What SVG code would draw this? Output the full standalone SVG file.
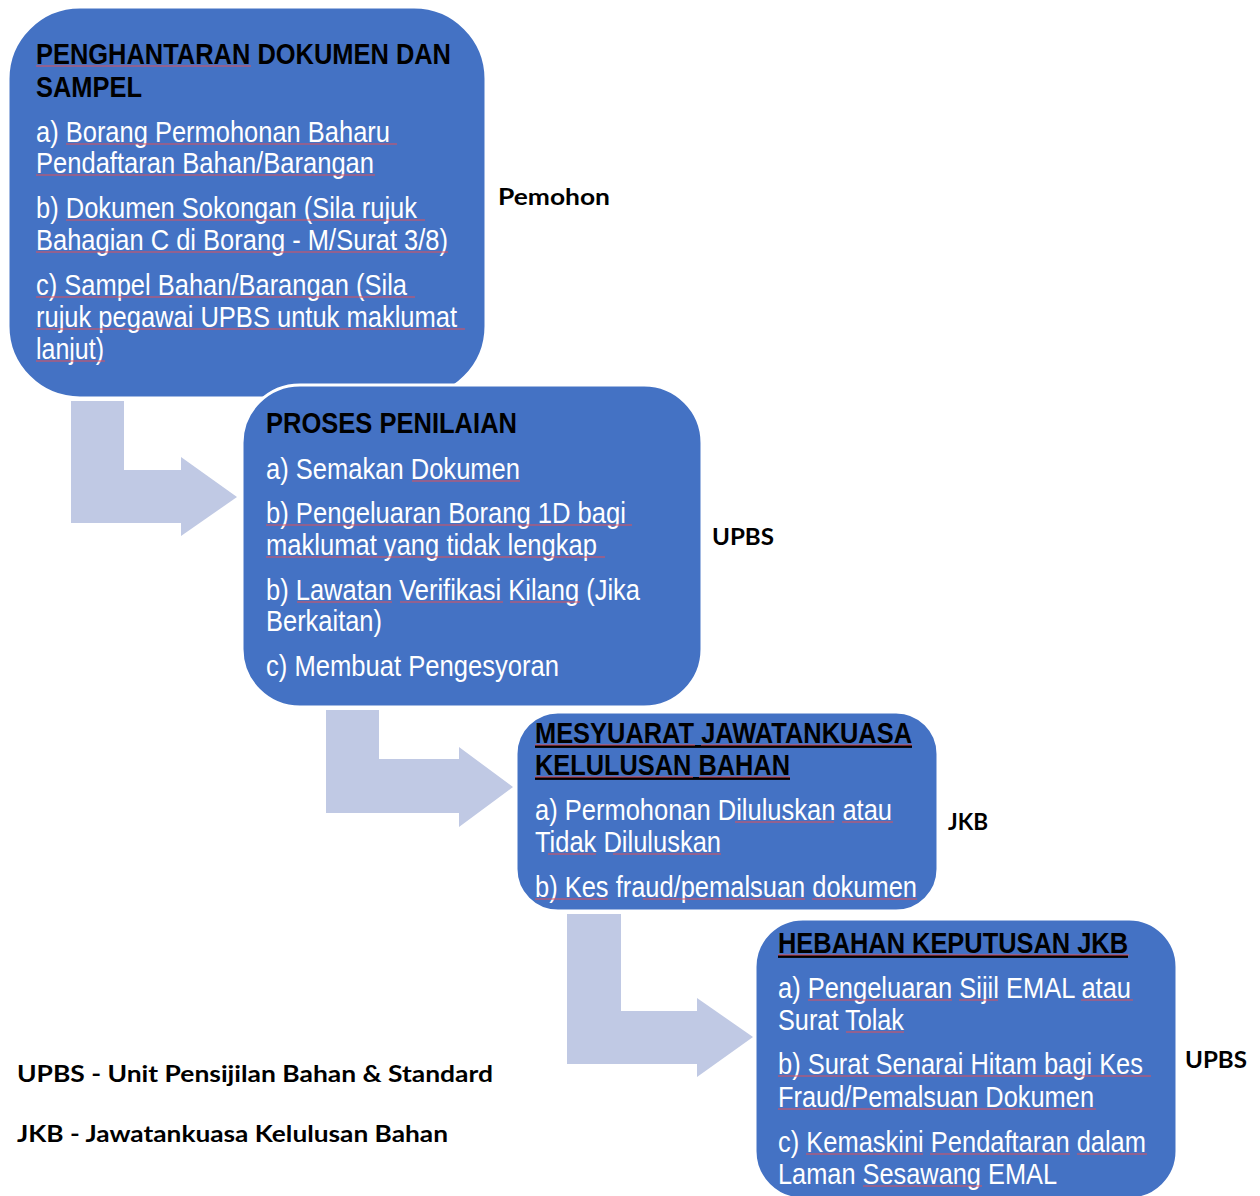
<svg xmlns="http://www.w3.org/2000/svg" width="1260" height="1196" viewBox="0 0 1260 1196">
<style>
.box{fill:#4472c4;stroke:#ffffff;stroke-width:3}
.arr{fill:#c0c9e4}
.t{font-family:"Liberation Sans Narrow","Liberation Sans",Arial,sans-serif;font-size:29px;fill:#000;font-weight:bold}
.b{font-family:"Liberation Sans Narrow","Liberation Sans",Arial,sans-serif;font-size:29px;fill:#ffffff}
.u{text-decoration:underline}
.lbl{font-family:Lato,"Open Sans",sans-serif;font-weight:bold;font-size:23px;fill:#000}
.sp{stroke:#e0505a;stroke-width:1.2;fill:none}
</style>
<rect width="1260" height="1196" fill="#ffffff"/>
<g id="connectors">
<path class="arr" d="M71,401 H124 V470 H181 V457 L237,497 L181,536 V523 H71 Z"/>
<path class="arr" d="M326,710 H379 V759 H459 V747 L513,787 L459,827 V813 H326 Z"/>
<path class="arr" d="M567,914 H621 V1011 H697 V998 L753,1037 L697,1077 V1064 H567 Z"/>
</g>
<g id="node1">
<rect class="box" x="8" y="7" width="478" height="391" rx="72" ry="72"/>
<text class="t" x="36" y="64" textLength="415" lengthAdjust="spacingAndGlyphs">PENGHANTARAN DOKUMEN DAN</text>
<text class="t" x="36" y="97" textLength="106" lengthAdjust="spacingAndGlyphs">SAMPEL</text>
<text class="b" x="36" y="142" textLength="354" lengthAdjust="spacingAndGlyphs">a) Borang Permohonan Baharu</text>
<text class="b" x="36" y="173" textLength="338" lengthAdjust="spacingAndGlyphs">Pendaftaran Bahan/Barangan</text>
<text class="b" x="36" y="218" textLength="381" lengthAdjust="spacingAndGlyphs">b) Dokumen Sokongan (Sila rujuk</text>
<text class="b" x="36" y="250" textLength="412" lengthAdjust="spacingAndGlyphs">Bahagian C di Borang - M/Surat 3/8)</text>
<text class="b" x="36" y="295" textLength="371" lengthAdjust="spacingAndGlyphs">c) Sampel Bahan/Barangan (Sila</text>
<text class="b" x="36" y="327" textLength="421" lengthAdjust="spacingAndGlyphs">rujuk pegawai UPBS untuk maklumat</text>
<text class="b" x="36" y="359" textLength="68" lengthAdjust="spacingAndGlyphs">lanjut)</text>
</g>
<g id="node2">
<rect class="box" x="242" y="385" width="460" height="322" rx="58" ry="58"/>
<text class="t" x="266" y="433" textLength="251" lengthAdjust="spacingAndGlyphs">PROSES PENILAIAN</text>
<text class="b" x="266" y="479" textLength="254" lengthAdjust="spacingAndGlyphs">a) Semakan Dokumen</text>
<text class="b" x="266" y="523" textLength="360" lengthAdjust="spacingAndGlyphs">b) Pengeluaran Borang 1D bagi</text>
<text class="b" x="266" y="555" textLength="331" lengthAdjust="spacingAndGlyphs">maklumat yang tidak lengkap</text>
<text class="b" x="266" y="600" textLength="374" lengthAdjust="spacingAndGlyphs">b) Lawatan Verifikasi Kilang (Jika</text>
<text class="b" x="266" y="631" textLength="116" lengthAdjust="spacingAndGlyphs">Berkaitan)</text>
<text class="b" x="266" y="676" textLength="293" lengthAdjust="spacingAndGlyphs">c) Membuat Pengesyoran</text>
</g>
<g id="node3">
<rect class="box" x="516" y="712" width="422" height="199" rx="42" ry="42"/>
<text class="t u" x="535" y="743" textLength="377" lengthAdjust="spacingAndGlyphs">MESYUARAT JAWATANKUASA</text>
<text class="t u" x="535" y="775" textLength="255" lengthAdjust="spacingAndGlyphs">KELULUSAN BAHAN</text>
<text class="b" x="535" y="820" textLength="357" lengthAdjust="spacingAndGlyphs">a) Permohonan Diluluskan atau</text>
<text class="b" x="535" y="852" textLength="186" lengthAdjust="spacingAndGlyphs">Tidak Diluluskan</text>
<text class="b" x="535" y="897" textLength="382" lengthAdjust="spacingAndGlyphs">b) Kes fraud/pemalsuan dokumen</text>
</g>
<g id="node4">
<rect class="box" x="755" y="919" width="422" height="280" rx="48" ry="48"/>
<text class="t u" x="778" y="953" textLength="350" lengthAdjust="spacingAndGlyphs">HEBAHAN KEPUTUSAN JKB</text>
<text class="b" x="778" y="998" textLength="353" lengthAdjust="spacingAndGlyphs">a) Pengeluaran Sijil EMAL atau</text>
<text class="b" x="778" y="1030" textLength="126" lengthAdjust="spacingAndGlyphs">Surat Tolak</text>
<text class="b" x="778" y="1074" textLength="365" lengthAdjust="spacingAndGlyphs">b) Surat Senarai Hitam bagi Kes</text>
<text class="b" x="778" y="1107" textLength="316" lengthAdjust="spacingAndGlyphs">Fraud/Pemalsuan Dokumen</text>
<text class="b" x="778" y="1152" textLength="368" lengthAdjust="spacingAndGlyphs">c) Kemaskini Pendaftaran dalam</text>
<text class="b" x="778" y="1184" textLength="279" lengthAdjust="spacingAndGlyphs">Laman Sesawang EMAL</text>
</g>
<g id="spellcheck">
<path class="sp" d="M36,66H251 M66,144H397 M36,175H375 M66,220H425 M36,252H448 M36,297H415 M36,329H465 M36,361H105"/>
<path class="sp" d="M412,481H520 M266,525H632 M266,557H605 M297,602H392 M400,602H503 M510,602H580"/>
<path class="sp" d="M535,745H695 M701,745H912 M535,777H693 M699,777H790 M735,822H834 M842,822H893 M548,854H596 M613,854H721 M535,899H608 M643,899H805 M812,899H917"/>
<path class="sp" d="M778,955H1129 M808,1000H952 M959,1000H998 M1081,1000H1133 M846,1032H904 M778,1076H1151 M778,1109H1096 M806,1154H923 M930,1154H1070 M1077,1154H1147 M863,1186H982"/>
</g>
<g id="labels">
<text class="lbl" x="498" y="205" textLength="112" lengthAdjust="spacingAndGlyphs">Pemohon</text>
<text class="lbl" x="712" y="545" textLength="62" lengthAdjust="spacingAndGlyphs">UPBS</text>
<text class="lbl" x="948" y="830" textLength="40" lengthAdjust="spacingAndGlyphs">JKB</text>
<text class="lbl" x="1185" y="1068" textLength="62" lengthAdjust="spacingAndGlyphs">UPBS</text>
<text class="lbl" x="17" y="1082" textLength="476" lengthAdjust="spacingAndGlyphs">UPBS - Unit Pensijilan Bahan &amp; Standard</text>
<text class="lbl" x="17" y="1142" textLength="431" lengthAdjust="spacingAndGlyphs">JKB - Jawatankuasa Kelulusan Bahan</text>
</g>
</svg>
